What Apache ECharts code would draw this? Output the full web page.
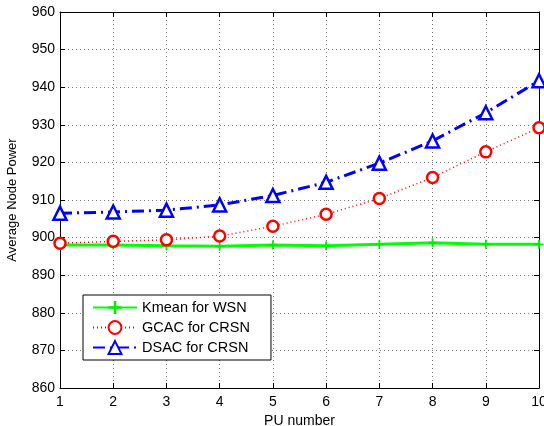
<!DOCTYPE html>
<html>
<head>
<meta charset="utf-8">
<script src="https://cdn.jsdelivr.net/npm/echarts@6/dist/echarts.min.js"></script>
<style>
  html, body { margin: 0; padding: 0; background: #fff; }
  #chart { width: 544px; height: 426px; }
</style>
</head>
<body>
<div id="chart"></div>
<script>
// values
var puNumber = [1, 2, 3, 4, 5, 6, 7, 8, 9, 10]
var kmeanWSN = [898.0, 898.0, 897.8, 897.7, 898.0, 897.8, 898.2, 898.6, 898.2, 898.2]
var gcacCRSN = [898.5, 899.0, 899.4, 900.4, 903.0, 906.2, 910.4, 916.0, 922.8, 929.2]
var dsacCRSN = [906.5, 906.8, 907.3, 908.7, 911.2, 914.7, 919.8, 925.7, 933.2, 941.7]

function pairs(ys) {
  return puNumber.map(function (x, i) { return [x, ys[i]] })
}

var font = 'Liberation Sans, Arial, sans-serif'
var plusPath = 'path://M4,0h2v4h4v2h-4v4h-2v-4h-4v-2h4z'

var gridLine = { show: true, lineStyle: { color: '#777', type: [1, 3], width: 1 } }

var myChart = echarts.init(document.getElementById('chart'))
var option = {
  animation: false,
  textStyle: { fontFamily: font },
  grid: { left: 60, right: 5, top: 12, bottom: 38, containLabel: false, outerBoundsMode: 'none' },
  xAxis: [{
    type: 'value',
    min: 1, max: 10, interval: 1,
    name: 'PU number',
    nameLocation: 'middle',
    nameGap: 23,
    nameTextStyle: { color: '#000', fontSize: 14, fontFamily: font },
    axisLine: { lineStyle: { color: '#000', width: 1 } },
    axisTick: { inside: true, length: 5, lineStyle: { color: '#000' } },
    axisLabel: { color: '#000', fontSize: 14, margin: 7, fontFamily: font },
    splitLine: gridLine
  }, {
    type: 'value', position: 'top',
    min: 1, max: 10, interval: 1,
    axisLine: { show: true, lineStyle: { color: '#000', width: 1 } },
    axisTick: { inside: true, length: 5, lineStyle: { color: '#000' } },
    axisLabel: { show: false },
    splitLine: { show: false }
  }],
  yAxis: [{
    type: 'value',
    min: 860, max: 960, interval: 10,
    name: 'Average Node Power',
    nameLocation: 'middle',
    nameGap: 41,
    nameTextStyle: { color: '#000', fontSize: 13, fontFamily: font },
    axisLine: { show: true, lineStyle: { color: '#000', width: 1 } },
    axisTick: { show: true, inside: true, length: 5, lineStyle: { color: '#000' } },
    axisLabel: { color: '#000', fontSize: 14, margin: 5, fontFamily: font },
    splitLine: gridLine
  }, {
    type: 'value', position: 'right',
    min: 860, max: 960, interval: 10,
    axisLine: { show: true, lineStyle: { color: '#000', width: 1 } },
    axisTick: { show: true, inside: true, length: 5, lineStyle: { color: '#000' } },
    axisLabel: { show: false },
    splitLine: { show: false }
  }],
  legend: {
    orient: 'vertical',
    left: 83, top: 295,
    padding: [5, 21, 5, 9],
    itemGap: 5,
    itemWidth: 44,
    itemHeight: 16,
    borderColor: '#000',
    borderWidth: 1,
    backgroundColor: '#fff',
    textStyle: { color: '#000', fontSize: 14.5, fontFamily: font },
    data: ['Kmean for WSN', 'GCAC for CRSN', 'DSAC for CRSN']
  },
  series: [
    {
      name: 'Kmean for WSN',
      type: 'line',
      data: pairs(kmeanWSN),
      symbol: plusPath,
      symbolSize: 9,
      showAllSymbol: true,
      color: '#00ff00',
      itemStyle: { color: '#00ee00' },
      lineStyle: { color: '#00ff00', width: 3, type: 'solid' }
    },
    {
      name: 'GCAC for CRSN',
      type: 'line',
      data: pairs(gcacCRSN),
      symbol: 'circle',
      symbolSize: 11,
      color: '#ff0000',
      itemStyle: { color: '#fff', borderColor: '#ff0000', borderWidth: 2.5 },
      lineStyle: { color: '#ff0000', width: 1.5, type: [1, 3] }
    },
    {
      name: 'DSAC for CRSN',
      type: 'line',
      data: pairs(dsacCRSN),
      symbol: 'triangle',
      symbolSize: 13,
      color: '#0000ff',
      itemStyle: { color: '#fff', borderColor: '#0000ff', borderWidth: 2.5 },
      lineStyle: { color: '#0000ff', width: 3, type: [12, 5, 2, 5] }
    }
  ]
}
myChart.setOption(option)
window.addEventListener('resize', function () { myChart.resize() })
</script>
</body>
</html>
